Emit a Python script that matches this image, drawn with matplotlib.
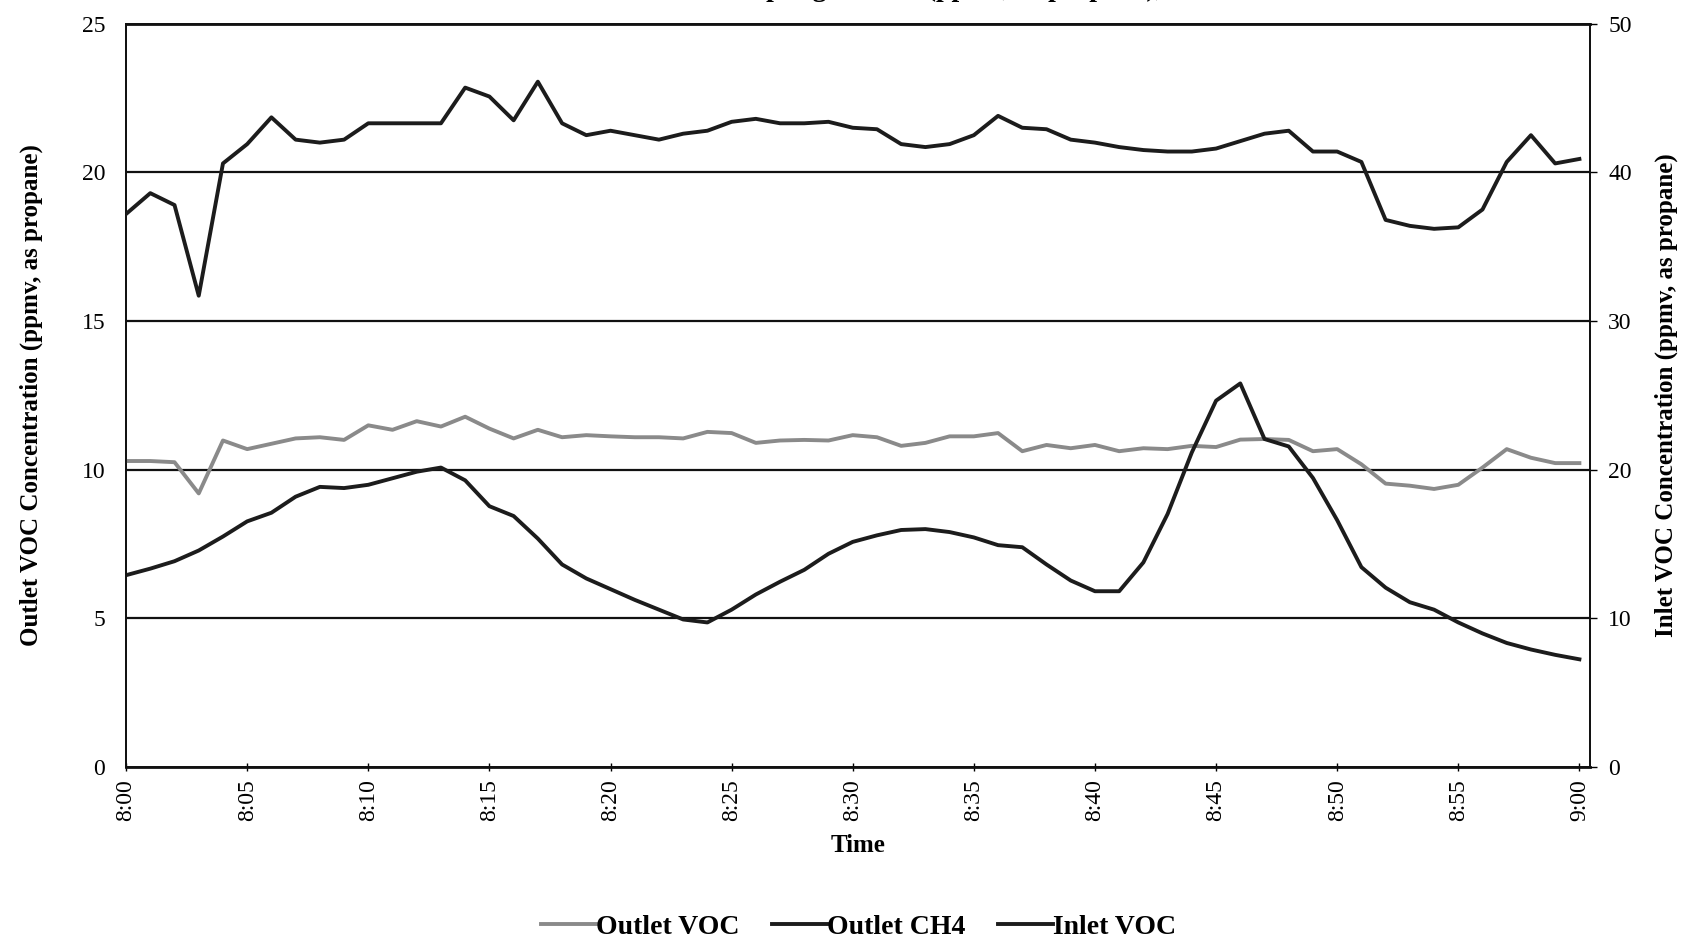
import matplotlib
matplotlib.use("Agg")
import matplotlib.pyplot as plt

plt.rcParams["font.family"] = ["Liberation Serif", "DejaVu Serif"]
plt.rcParams["font.weight"] = "bold"

# minutes after 8:00, one reading per minute
MINUTES = list(range(61))
TICK_MINUTES = list(range(0, 61, 5))
TICK_LABELS = ["8:00", "8:05", "8:10", "8:15", "8:20", "8:25", "8:30",
               "8:35", "8:40", "8:45", "8:50", "8:55", "9:00"]

OUTLET_VOC = [10.29, 10.29, 10.25, 9.2, 10.98, 10.69, 10.87, 11.05, 11.09, 11.0,
              11.49, 11.34, 11.63, 11.45, 11.78, 11.38, 11.05, 11.34, 11.09, 11.16,
              11.12, 11.09, 11.09, 11.05, 11.27, 11.23, 10.9, 10.98, 11.0, 10.98,
              11.16, 11.09, 10.8, 10.9, 11.12, 11.12, 11.23, 10.62, 10.83, 10.72,
              10.83, 10.62, 10.72, 10.69, 10.8, 10.76, 11.01, 11.03, 11.0, 10.62,
              10.69, 10.18, 9.53, 9.46, 9.35, 9.49, 10.07, 10.69, 10.4, 10.22,
              10.22]

OUTLET_CH4 = [6.45, 6.67, 6.92, 7.28, 7.75, 8.26, 8.55, 9.09, 9.42, 9.38,
              9.49, 9.71, 9.93, 10.07, 9.64, 8.77, 8.44, 7.68, 6.81, 6.34,
              5.98, 5.62, 5.29, 4.96, 4.86, 5.29, 5.8, 6.23, 6.63, 7.17,
              7.57, 7.79, 7.97, 8.0, 7.9, 7.72, 7.46, 7.39, 6.81, 6.27,
              5.91, 5.91, 6.88, 8.51, 10.58, 12.32, 12.9, 11.03, 10.78, 9.72,
              8.3, 6.72, 6.03, 5.54, 5.29, 4.86, 4.49, 4.17, 3.95, 3.77,
              3.62]

INLET_VOC = [37.2, 38.6, 37.8, 31.7, 40.6, 41.9, 43.7, 42.2, 42.0, 42.2,
             43.3, 43.3, 43.3, 43.3, 45.7, 45.1, 43.5, 46.1, 43.3, 42.5,
             42.8, 42.5, 42.2, 42.6, 42.8, 43.4, 43.6, 43.3, 43.3, 43.4,
             43.0, 42.9, 41.9, 41.7, 41.9, 42.5, 43.8, 43.0, 42.9, 42.2,
             42.0, 41.7, 41.5, 41.4, 41.4, 41.6, 42.1, 42.6, 42.8, 41.4,
             41.4, 40.7, 36.8, 36.4, 36.2, 36.3, 37.5, 40.7, 42.5, 40.6,
             40.9]

GRAY = "#8a8a8a"
DARK = "#1c1c1c"

fig = plt.figure(figsize=(16.9, 9.48), dpi=100)
ax = fig.add_axes([0.0746, 0.191, 0.8664, 0.784])
ax2 = ax.twinx()

l1, = ax.plot(MINUTES, OUTLET_VOC, color=GRAY, lw=2.8, label="Outlet VOC", zorder=3)
l2, = ax.plot(MINUTES, OUTLET_CH4, color=DARK, lw=2.8, label="Outlet CH4", zorder=3)
l3, = ax2.plot(MINUTES, INLET_VOC, color=DARK, lw=2.8, label="Inlet VOC", zorder=3)

ax.set_xlim(0, 60.45)
ax.set_ylim(0, 25)
ax2.set_ylim(0, 50)
ax.set_yticks([0, 5, 10, 15, 20, 25])
ax2.set_yticks([0, 10, 20, 30, 40, 50])
ax.set_xticks(TICK_MINUTES)
ax.set_xticklabels(TICK_LABELS, rotation=90, fontsize=17, fontweight="normal")
ax.tick_params(axis="x", direction="inout", length=6, width=1, pad=6)
ax.tick_params(axis="y", length=0, labelsize=17, pad=15)
ax2.tick_params(axis="y", direction="out", length=5, width=1, labelsize=17, pad=8)
for lab in ax.get_yticklabels() + ax2.get_yticklabels():
    lab.set_fontweight("normal")

for v in [5, 10, 15, 20]:
    ax.axhline(v, color="#111111", lw=1.6, zorder=1)

for a in (ax, ax2):
    for s in a.spines.values():
        s.set_color("#111111")
        s.set_linewidth(1.3)
ax.spines["top"].set_linewidth(2.0)
ax.spines["bottom"].set_linewidth(2.0)

ax.set_xlabel("Time", fontsize=18, fontweight="bold", labelpad=9)
ax.set_ylabel("Outlet VOC Concentration (ppmv, as propane)", fontsize=18,
              fontweight="bold", labelpad=28)
ax2.set_ylabel("Inlet VOC Concentration (ppmv, as propane)", fontsize=18,
               fontweight="bold", rotation=90, labelpad=16)

fig.legend(handles=[l1, l2, l3], loc="center", bbox_to_anchor=(0.508, 0.022),
           ncol=3, frameon=False, fontsize=20, handlelength=2.0,
           handletextpad=0.0, columnspacing=1.15)

# title is clipped at the top edge of the scanned page
fig.text(0.5, 1.004, "Inlet and Outlet VOC Sampling Results (ppmv, as propane), Run 1",
         ha="center", va="baseline", fontsize=20, fontweight="bold")

fig.savefig("out.png", dpi=100)
